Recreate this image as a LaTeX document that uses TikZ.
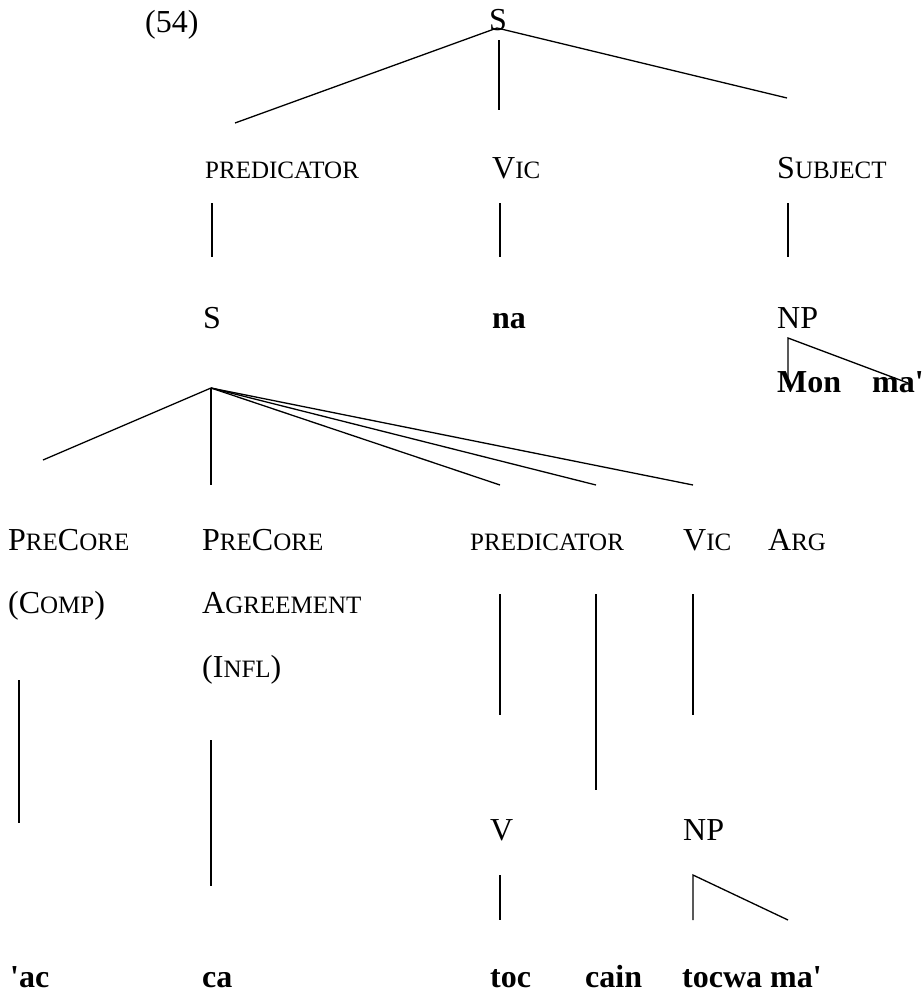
\documentclass[tikz,border=0pt]{standalone}
\usepackage{fontspec}
\setmainfont{Liberation Serif}
% reduced capitals standing in for small caps
\newcommand\scp[1]{{\fontsize{25}{30}\selectfont #1}}
\newcommand\apos{\textquotesingle}
\begin{document}
\begin{tikzpicture}[x=1pt,y=-1pt,
  every node/.style={inner sep=0pt, anchor=base west, font=\fontsize{32}{38}\selectfont},
  lex/.style={font=\fontsize{32}{38}\selectfont\bfseries},
  branch/.style={line width=1.3pt},
  stem/.style={line width=1.1pt}]
\useasboundingbox (0,0) rectangle (923,996);

% labels
\node (ex)    at (145,32)  {(54)};
\node (s0)    at (489,30)  {S};
\node (pred0) at (205,178) {\scp{PREDICATOR}};
\node (vic0)  at (492,178) {V\scp{IC}};
\node (subj)  at (777,178) {S\scp{UBJECT}};
\node (s1)    at (203,328) {S};
\node[lex] (na)  at (492,328) {na};
\node (np0)   at (777,328) {NP};
\node[lex] (mon) at (777,392) {Mon};
\node[lex] (ma0) at (872,392) {ma\apos};
\node (pc1)   at (8,550)   {P\scp{RE}C\scp{ORE}};
\node (pc2)   at (202,550) {P\scp{RE}C\scp{ORE}};
\node (pred1) at (470,550) {\scp{PREDICATOR}};
\node (vic1)  at (683,550) {V\scp{IC}};
\node (arg)   at (768,550) {A\scp{RG}};
\node (comp)  at (8,613)   {(C\scp{OMP})};
\node (agr)   at (202,613) {A\scp{GREEMENT}};
\node (infl)  at (202,677) {(I\scp{NFL})};
\node (v)     at (490,840) {V};
\node (np1)   at (683,840) {NP};
\node[lex] (ac)    at (10,987)  {\apos ac};
\node[lex] (ca)    at (202,987) {ca};
\node[lex] (toc)   at (490,987) {toc};
\node[lex] (cain)  at (585,987) {cain};
\node[lex] (tocwa) at (682,987) {tocwa ma\apos};

% branch end points
\coordinate (t0) at (497,28);
\coordinate (t1) at (235,123);
\coordinate (t2a) at (499,40);  \coordinate (t2) at (499,110);
\coordinate (t3) at (787,98);
\coordinate (a1) at (212,203); \coordinate (b1) at (212,257);
\coordinate (a2) at (500,203); \coordinate (b2) at (500,257);
\coordinate (a3) at (788,203); \coordinate (b3) at (788,257);
\coordinate (n0) at (788,338); \coordinate (n1) at (788,387); \coordinate (n2) at (908,383);
\coordinate (f0) at (211,388);
\coordinate (f1) at (43,460);
\coordinate (f2) at (211,485);
\coordinate (f3) at (500,485);
\coordinate (f4) at (596,485);
\coordinate (f5) at (693,485);
\coordinate (c1) at (19,680);  \coordinate (d1) at (19,823);
\coordinate (c2) at (211,740); \coordinate (d2) at (211,886);
\coordinate (c3) at (500,594); \coordinate (d3) at (500,715);
\coordinate (c4) at (596,594); \coordinate (d4) at (596,790);
\coordinate (c5) at (693,594); \coordinate (d5) at (693,715);
\coordinate (e1) at (500,875); \coordinate (g1) at (500,920);
\coordinate (e2) at (693,875); \coordinate (g2) at (693,920); \coordinate (h2) at (788,920);

% top fan
\draw[branch] (t1) -- (t0) -- (t3);
\draw[stem] (t2a) -- (t2);
\draw[stem] (a1) -- (b1);
\draw[stem] (a2) -- (b2);
\draw[stem] (a3) -- (b3);
% subject NP triangle
\draw[branch] (n1) -- (n0) -- (n2);
% lower fan
\draw[branch] (f0) -- (f1);
\draw[stem] (f0) -- (f2);
\draw[branch] (f0) -- (f3);
\draw[branch] (f0) -- (f4);
\draw[branch] (f0) -- (f5);
% vertical stems
\draw[stem] (c1) -- (d1);
\draw[stem] (c2) -- (d2);
\draw[stem] (c3) -- (d3);
\draw[stem] (c4) -- (d4);
\draw[stem] (c5) -- (d5);
\draw[stem] (e1) -- (g1);
\draw[branch] (g2) -- (e2) -- (h2);
\end{tikzpicture}
\end{document}
